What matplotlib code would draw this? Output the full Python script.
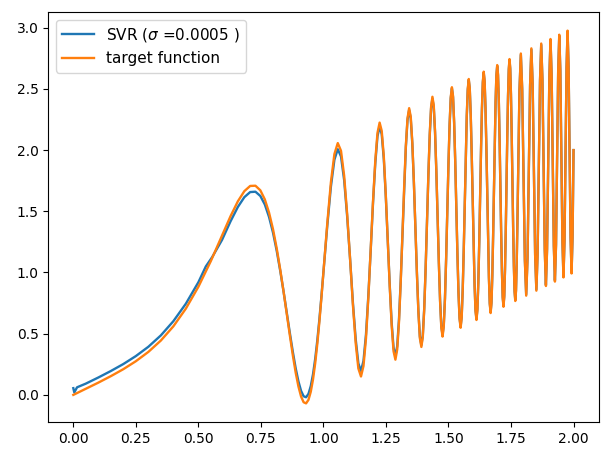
import matplotlib
matplotlib.use("Agg")
import matplotlib.pyplot as plt

# ---- target function (x, y) ----
target_x = [
    0.0, 0.05, 0.10, 0.15, 0.20, 0.25, 0.30, 0.35, 0.40, 0.45, 0.50, 0.55,
    0.5946, 0.6287, 0.6580, 0.6839, 0.7071, 0.7282, 0.7477, 0.7657,
    0.7825, 0.7984, 0.8133, 0.8274, 0.8409, 0.8537, 0.8660, 0.8778,
    0.8891, 0.9001, 0.9106, 0.9208, 0.9306, 0.9402, 0.9494, 0.9584,
    0.9672, 0.9757, 0.9840, 0.9921, 1.0,
    1.0153, 1.0299, 1.0439, 1.0574, 1.0703, 1.0829, 1.0949, 1.1067,
    1.1179, 1.1291, 1.1397, 1.1502, 1.1602, 1.1702, 1.1797, 1.1892,
    1.1983, 1.2074, 1.2161, 1.2247, 1.2331, 1.2414, 1.2494, 1.2574,
    1.2652, 1.2729, 1.2804, 1.2878, 1.2950, 1.3021, 1.3091, 1.3161,
    1.3229, 1.3296, 1.3362, 1.3427, 1.3491, 1.3554, 1.3616, 1.3678,
    1.3738, 1.3798, 1.3857, 1.3916, 1.3973, 1.4030, 1.4086, 1.4142,
    1.4197, 1.4251, 1.4305, 1.4358, 1.4411, 1.4463, 1.4514, 1.4565,
    1.4615, 1.4665, 1.4714, 1.4763, 1.4811, 1.4859, 1.4906, 1.4953,
    1.4999, 1.5045, 1.5091, 1.5137, 1.5182, 1.5226, 1.5270, 1.5314,
    1.5357, 1.5400, 1.5443, 1.5485, 1.5527, 1.5568, 1.5610, 1.5651,
    1.5691, 1.5731, 1.5771, 1.5811, 1.5850, 1.5889, 1.5928, 1.5967,
    1.6005, 1.6043, 1.6081, 1.6119, 1.6156, 1.6193, 1.6230, 1.6266,
    1.6302, 1.6338, 1.6374, 1.6409, 1.6444, 1.6479, 1.6514, 1.6549,
    1.6583, 1.6617, 1.6651, 1.6685, 1.6719, 1.6752, 1.6785, 1.6818,
    1.6851, 1.6883, 1.6916, 1.6948, 1.6980, 1.7012, 1.7044, 1.7075,
    1.7106, 1.7137, 1.7168, 1.7199, 1.7230, 1.7260, 1.7291, 1.7321,
    1.7351, 1.7381, 1.7411, 1.7440, 1.7469, 1.7498, 1.7527, 1.7556,
    1.7585, 1.7614, 1.7643, 1.7671, 1.7699, 1.7727, 1.7755, 1.7783,
    1.7838, 1.7893, 1.7947, 1.8001, 1.8054, 1.8107, 1.8160, 1.8212,
    1.8263, 1.8314, 1.8365, 1.8415, 1.8465, 1.8514, 1.8563, 1.8612,
    1.8660, 1.8708, 1.8756, 1.8803, 1.8850, 1.8896, 1.8942, 1.8988,
    1.9034, 1.9079, 1.9124, 1.9168, 1.9212, 1.9256, 1.9300, 1.9343,
    1.9386, 1.9429, 1.9472, 1.9514, 1.9556, 1.9597, 1.9639, 1.9680,
    1.9721, 1.9761, 1.9802, 1.9842, 1.9882, 1.9921, 1.9961, 2.0,
]
target_y = [
    0.0, 0.05, 0.10, 0.153, 0.210, 0.275, 0.351, 0.444, 0.560, 0.705, 0.883, 1.094,
    1.3017, 1.4602, 1.5819, 1.6647, 1.7071, 1.7090, 1.6716, 1.5972,
    1.4896, 1.3540, 1.1960, 1.0225, 0.8409, 0.6586, 0.4833, 0.3222,
    0.1820, 0.0686, -0.0133, -0.0600, -0.0694, -0.0406, 0.0255, 0.1269,
    0.2601, 0.4201, 0.6013, 0.7970, 1.0,
    1.3980, 1.7370, 1.9678, 2.0574, 1.9942, 1.7900, 1.4776, 1.1067,
    0.7352, 0.4220, 0.2158, 0.1502, 0.2363, 0.4631, 0.7970, 1.1892,
    1.5810, 1.9145, 2.1400, 2.2247, 2.1570, 1.9485, 1.6321, 1.2574,
    0.8825, 0.5658, 0.3565, 0.2878, 0.3711, 0.5950, 0.9264, 1.3161,
    1.7056, 2.0367, 2.2601, 2.3427, 2.2730, 2.0625, 1.7443, 1.3678,
    0.9911, 0.6727, 0.4618, 0.3916, 0.4734, 0.6959, 1.0259, 1.4142,
    1.8024, 2.1322, 2.3544, 2.4358, 2.3650, 2.1534, 1.8341, 1.4565,
    1.0788, 0.7594, 0.5475, 0.4763, 0.5572, 0.7788, 1.1079, 1.4953,
    1.8826, 2.2116, 2.4330, 2.5137, 2.4421, 2.2297, 1.9097, 1.5314,
    1.1530, 0.8329, 0.6204, 0.5485, 0.6288, 0.8497, 1.1783, 1.5651,
    1.9518, 2.2802, 2.5010, 2.5811, 2.5089, 2.2960, 1.9755, 1.5967,
    1.2178, 0.8972, 0.6842, 0.6119, 0.6917, 0.9122, 1.2403, 1.6266,
    2.0129, 2.3409, 2.5613, 2.6409, 2.5683, 2.3550, 2.0341, 1.6549,
    1.2756, 0.9546, 0.7412, 0.6685, 0.7480, 0.9681, 1.2958, 1.6818,
    2.0678, 2.3954, 2.6155, 2.6948, 2.6219, 2.4083, 2.0871, 1.7075,
    1.3279, 1.0066, 0.7929, 0.7199, 0.7991, 1.0189, 1.3464, 1.7321,
    2.1178, 2.4452, 2.6650, 2.7440, 2.6708, 2.4569, 2.1354, 1.7556,
    1.3758, 1.0543, 0.8404, 0.7671, 0.8460, 1.0656, 1.3928, 1.7783,
    2.4909, 2.7893, 2.5018, 1.8001, 1.0983, 0.8107, 1.1089, 1.8212,
    2.5334, 2.8314, 2.5436, 1.8415, 1.1394, 0.8514, 1.1492, 1.8612,
    2.5731, 2.8708, 2.5827, 1.8803, 1.1779, 0.8896, 1.1871, 1.8988,
    2.6105, 2.9079, 2.6195, 1.9168, 1.2141, 0.9256, 1.2229, 1.9343,
    2.6457, 2.9429, 2.6543, 1.9514, 1.2485, 0.9597, 1.2568, 1.9680,
    2.6792, 2.9761, 2.6873, 1.9842, 1.2811, 0.9921, 1.2890, 2.0,
]

# ---- SVR prediction (x, y) ----
svr_x = [0.0, 0.004, 0.015, 0.05, 0.10, 0.15, 0.20, 0.25, 0.30, 0.35, 0.40,
         0.45, 0.50, 0.53, 0.555] + target_x[12:]
svr_y = [
    0.055, 0.02, 0.062, 0.092, 0.142, 0.195, 0.252, 0.317, 0.393, 0.486, 0.602,
    0.745, 0.92, 1.05, 1.125,
    1.2663, 1.4186, 1.5357, 1.6157, 1.6571, 1.6600, 1.6254, 1.5556,
    1.4542, 1.3262, 1.1769, 1.0127, 0.8409, 0.6684, 0.5024, 0.3500,
    0.2174, 0.1102, 0.0329, -0.0110, -0.0194, 0.0084, 0.0717, 0.1685,
    0.2955, 0.4479, 0.6204, 0.8068, 1.0,
    1.3789, 1.7016, 1.9216, 2.0074, 1.9480, 1.7546, 1.4585, 1.1067,
    0.7524, 0.4538, 0.2574, 0.1952, 0.2779, 0.4949, 0.8142, 1.1892,
    1.5695, 1.8933, 2.1123, 2.1947, 2.1293, 1.9273, 1.6206, 1.2574,
    0.8940, 0.5870, 0.3842, 0.3178, 0.3988, 0.6162, 0.9379, 1.3161,
    1.6999, 2.0261, 2.2462, 2.3277, 2.2591, 2.0519, 1.7386, 1.3678,
    0.9968, 0.6833, 0.4757, 0.4066, 0.4873, 0.7065, 1.0316, 1.4142,
    1.7967, 2.1216, 2.3405, 2.4208, 2.3511, 2.1428, 1.8284, 1.4565,
    1.0845, 0.7700, 0.5614, 0.4913, 0.5711, 0.7894, 1.1136, 1.4953,
    1.8788, 2.2046, 2.4238, 2.5037, 2.4329, 2.2227, 1.9059, 1.5314,
    1.1568, 0.8399, 0.6296, 0.5585, 0.6380, 0.8567, 1.1821, 1.5651,
    1.9480, 2.2732, 2.4918, 2.5711, 2.4997, 2.2890, 1.9717, 1.5967,
    1.2216, 0.9042, 0.6934, 0.6219, 0.7009, 0.9192, 1.2441, 1.6266,
    2.0091, 2.3339, 2.5521, 2.6309, 2.5591, 2.3480, 2.0303, 1.6549,
    1.2794, 0.9616, 0.7504, 0.6785, 0.7572, 0.9751, 1.2996, 1.6818,
    2.0640, 2.3884, 2.6063, 2.6848, 2.6127, 2.4013, 2.0833, 1.7075,
    1.3317, 1.0136, 0.8021, 0.7299, 0.8083, 1.0259, 1.3502, 1.7321,
    2.1140, 2.4382, 2.6558, 2.7340, 2.6616, 2.4499, 2.1316, 1.7556,
    1.3796, 1.0613, 0.8496, 0.7771, 0.8552, 1.0726, 1.3966, 1.7783,
    2.4839, 2.7793, 2.4948, 1.8001, 1.1053, 0.8207, 1.1159, 1.8212,
    2.5264, 2.8214, 2.5366, 1.8415, 1.1464, 0.8614, 1.1562, 1.8612,
    2.5661, 2.8608, 2.5757, 1.8803, 1.1849, 0.8996, 1.1941, 1.8988,
    2.6035, 2.8979, 2.6125, 1.9168, 1.2211, 0.9356, 1.2299, 1.9343,
    2.6387, 2.9329, 2.6473, 1.9514, 1.2555, 0.9697, 1.2638, 1.9680,
    2.6722, 2.9661, 2.6803, 1.9842, 1.2881, 1.0021, 1.2960, 2.0,
]

svr_label = r"SVR ($\sigma$ =0.0005 )"
target_label = "target function"
xticks = [0.0, 0.25, 0.5, 0.75, 1.0, 1.25, 1.5, 1.75, 2.0]
yticks = [0.0, 0.5, 1.0, 1.5, 2.0, 2.5, 3.0]

fig = plt.figure(figsize=(6.06, 4.53), dpi=100)
ax = fig.add_axes([0.0797, 0.0684, 0.9080, 0.9051])
ax.plot(svr_x, svr_y, color="#1f77b4", lw=1.7, label=svr_label)
ax.plot(target_x, target_y, color="#ff7f0e", lw=1.7, label=target_label)
ax.set_xticks(xticks)
ax.set_yticks(yticks)
ax.legend(loc="upper left", fontsize=11, handlelength=2.1)
fig.savefig("out.png", dpi=100)
